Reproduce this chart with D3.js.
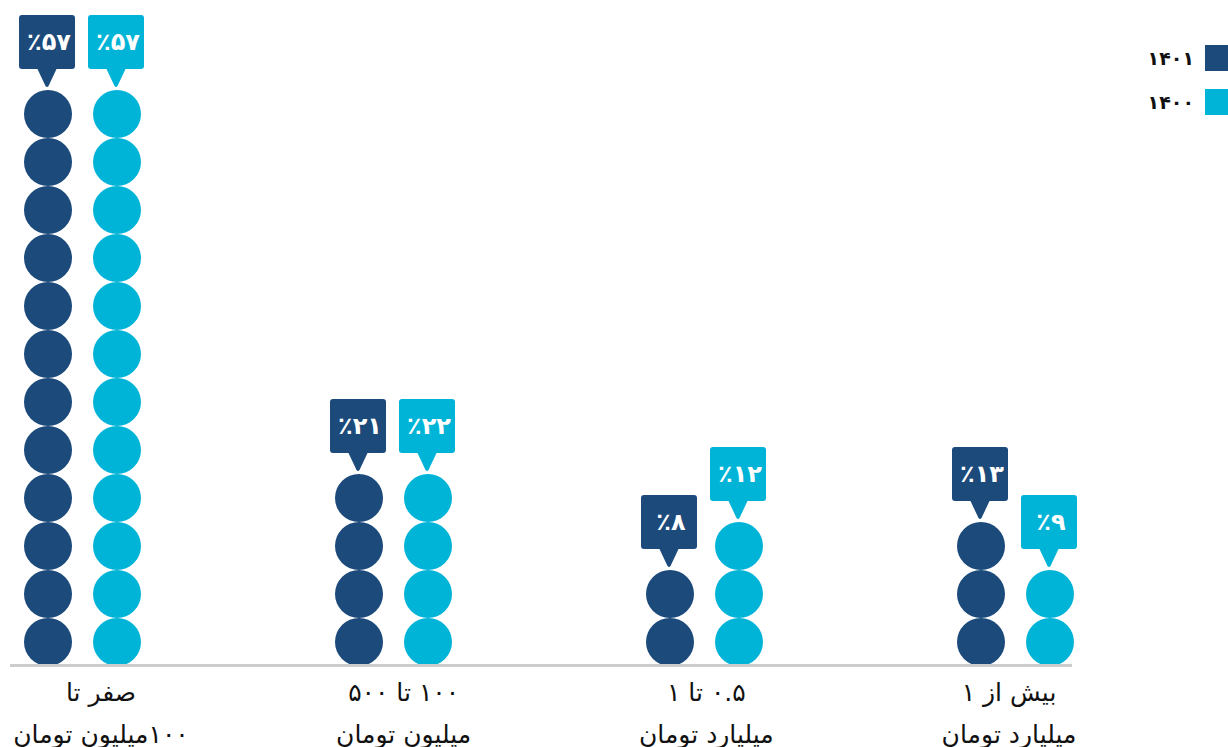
<!DOCTYPE html>
<html>
<head>
<meta charset="utf-8">
<script src="https://cdn.jsdelivr.net/npm/d3@7"></script>
<style>
  html, body { margin: 0; padding: 0; background: #ffffff; }
  #wrap { position: relative; width: 1228px; height: 747px; overflow: hidden; }
  svg { display: block; position: absolute; left: 0; top: 0; }
  .cat { position: absolute; transform: translate(-50%, -50%); white-space: nowrap;
         font-family: 'DejaVu Sans', 'Noto Sans', sans-serif; font-size: 25px; color: #111; line-height: 1; }
</style>
</head>
<body>
<div id="wrap"><svg id="chart" width="1228" height="747"></svg></div>
<script>
// ---- data ----
const categories = ["c1", "c2", "c3", "c4"];
const categoryLine1 = ["صفر تا", "۱۰۰ تا ۵۰۰", "۰.۵ تا ۱", "بیش از ۱"];
const categoryLine2 = ["۱۰۰میلیون تومان", "میلیون تومان", "میلیارد تومان", "میلیارد تومان"];
const seriesNames = ["۱۴۰۱", "۱۴۰۰"];
const values1401 = [57, 21, 8, 13];
const values1400 = [57, 22, 12, 9];
const circles1401 = [12, 4, 2, 3];
const circles1400 = [12, 4, 3, 2];
const colors = ["#1b4a7b", "#00b4d8"];

const seriesData = [
  { name: seriesNames[0], values: values1401, circles: circles1401, color: colors[0] },
  { name: seriesNames[1], values: values1400, circles: circles1400, color: colors[1] }
];

const toFa = n => String(n).replace(/\d/g, d => "۰۱۲۳۴۵۶۷۸۹"[+d]);

// ---- scales ----
const svg = d3.select("#chart");
const W = 1228, H = 747;
svg.append("rect").attr("width", W).attr("height", H).attr("fill", "#fff");

const xGroup = d3.scalePoint().domain(categories).range([82.5, 1015.5]);
const xSeries = d3.scalePoint().domain(seriesNames).range([-34.5, 34.5]);
const xLabel = d3.scalePoint().domain(categories).range([101, 1009]);
const y = d3.scaleLinear().domain([0, 12]).range([666, 90]);
const r = (y(0) - y(1)) / 2;

const font = "'DejaVu Sans', 'Noto Sans', sans-serif";

// ---- circles ----
const gMarks = svg.append("g");
seriesData.forEach(s => {
  categories.forEach((c, i) => {
    const cx = xGroup(c) + xSeries(s.name);
    const cells = d3.range(s.circles[i]);
    gMarks.selectAll(null).data(cells).enter().append("circle")
      .attr("cx", cx)
      .attr("cy", k => y(k + 0.5))
      .attr("r", r)
      .attr("fill", s.color);
  });
});

// ---- axis line ----
svg.append("line")
  .attr("x1", 10).attr("x2", 1072)
  .attr("y1", 665.5).attr("y2", 665.5)
  .attr("stroke", "#cccccc").attr("stroke-width", 3);

// ---- callout labels ----
const bw = 56, bh = 54, ph = 18, pw = 20;
seriesData.forEach(s => {
  categories.forEach((c, i) => {
    const cx = xGroup(c) + xSeries(s.name) - 1;
    const tip = y(s.circles[i]) - 3;
    const bottom = tip - ph;
    const top = bottom - bh;
    const g = svg.append("g");
    g.append("rect")
      .attr("x", cx - bw / 2).attr("y", top)
      .attr("width", bw).attr("height", bh)
      .attr("rx", 3).attr("fill", s.color);
    g.append("path")
      .attr("d", `M${cx - pw / 2},${bottom - 1} L${cx + pw / 2},${bottom - 1} L${cx + 1.5},${tip - 1} Q${cx},${tip + 1} ${cx - 1.5},${tip - 1} Z`)
      .attr("fill", s.color);
    g.append("text")
      .attr("x", cx + 2).attr("y", top + bh / 2 + 1)
      .attr("text-anchor", "middle")
      .attr("dominant-baseline", "middle")
      .attr("fill", "#fff")
      .attr("font-family", font)
      .attr("font-weight", "bold")
      .attr("font-size", 24)
      .attr("letter-spacing", 4)
      .text("٪" + toFa(s.values[i]));
  });
});

// ---- category labels (HTML, right-to-left) ----
const wrap = d3.select("#wrap");
categories.forEach((c, i) => {
  wrap.append("div").attr("class", "cat").attr("dir", "rtl")
    .style("left", xLabel(c) + "px").style("top", "692px")
    .text(categoryLine1[i]);
  wrap.append("div").attr("class", "cat").attr("dir", "rtl")
    .style("left", xLabel(c) + "px").style("top", "734px")
    .text(categoryLine2[i]);
});

// ---- legend ----
const gLeg = svg.append("g");
seriesData.forEach((s, i) => {
  const yy = 45 + i * 44;
  gLeg.append("rect")
    .attr("x", 1205).attr("y", yy)
    .attr("width", 25).attr("height", 26)
    .attr("fill", s.color);
  gLeg.append("text")
    .attr("x", 1194).attr("y", yy + 14)
    .attr("text-anchor", "end")
    .attr("dominant-baseline", "middle")
    .attr("font-family", font)
    .attr("font-weight", "bold")
    .attr("font-size", 19)
    .attr("fill", "#111")
    .text(s.name);
});
</script>
</body>
</html>
